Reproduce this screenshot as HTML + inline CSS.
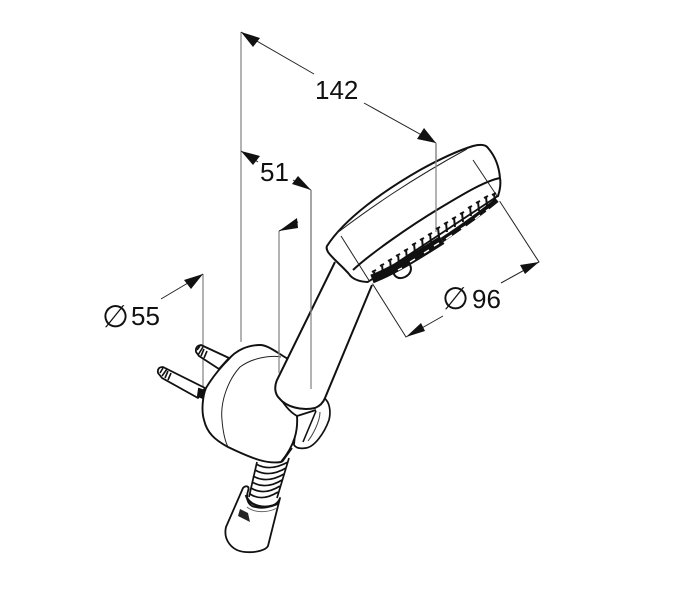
<!DOCTYPE html>
<html><head><meta charset="utf-8"><style>
html,body{margin:0;padding:0;background:#fff}
svg{display:block}
text{font-family:"Liberation Sans",sans-serif;font-size:26px;fill:#111}
.p{font-family:"DejaVu Sans",sans-serif;font-size:31px}
</style></head><body>
<svg width="700" height="600" viewBox="0 0 700 600" xmlns="http://www.w3.org/2000/svg">
<!-- grey extension lines -->
<g stroke="#8a8a8a" stroke-width="1.3" fill="none">
<path d="M241 32V342M279 231V373M311 190V389M203 274V390M436 143V232"/>
</g>
<!-- dimension lines -->
<g stroke="#222" stroke-width="1" fill="none">
<path d="M241 32L314 74M364 103L436 143M241 151L258 162M293 180L311 190M279 231L298 222M203 274L161 299"/>
<path d="M372 283L406 337L443 316M501 283L539 262L473 160"/>
</g>
<!-- arrowheads -->
<g fill="#111">
<path d="M241 32L260 38L253 47Z"/>
<path d="M436 143L417 139L424 128Z"/>
<path d="M241 151L260 156L253 165Z"/>
<path d="M311 190L292 184L298 176Z"/>
<path d="M279 231L297 218L298 228Z"/>
<path d="M203 274L184 280L191 289Z"/>
<path d="M406 337L421 323L425 331Z"/>
<path d="M539 262L520 265L525 274Z"/>
</g>
<!-- pins -->
<g fill="#fff" stroke="#111" stroke-width="1.8" stroke-linejoin="round">
<path d="M229 358L201 345Q195 346 196 352L199 356L219 369Z"/>
<path d="M205 388L163 367Q157 367 158 373L162 378L198 398Z"/>
</g>
<path d="M197 350L200 346M198 355L203 347M204 349L201 356M207 351L204 358M160 373L163 368M162 376L167 369M168 371L165 378M171 373L168 380" stroke="#111" stroke-width="1.6" fill="none"/>
<path d="M199 389L205 391L203 398L198 396Z" fill="#111" stroke="#111" stroke-width="2"/>
<!-- hose -->
<path d="M257 460L250 497L277 498L289 458Z" fill="#fff"/>
<g stroke="#111" stroke-width="1.7" fill="none">
<path d="M257 462L249 497M289 458L277 498"/>
<path d="M256 464Q270 472 288 462M255 470Q269 478 286 468M253 476Q267 484 284 474M252 482Q266 490 282 480M251 488Q264 496 280 486M250 494Q262 502 278 492"/>
</g>
<!-- connector -->
<path d="M243 488L226 527C223 540 232 551 245 552C256 553 266 550 268 546L280 498C277 507 262 510 252 506C247 503 246 497 248 491C250 486 246 485 243 488Z" fill="#fff" stroke="#111" stroke-width="1.8" stroke-linejoin="round"/>
<path d="M246 495C248 505 264 511 279 503" fill="none" stroke="#111" stroke-width="2.4"/>
<path d="M247 507C254 513 268 513 277 508" fill="none" stroke="#666" stroke-width="1"/>
<path d="M240 509L248 513L250 522L238 516Z" fill="#222"/>
<!-- holder behind -->
<path d="M324 398C330 402 331 412 329 420C324 434 314 447 306 448C300 449 296 448 294 445L297 415Z" fill="#fff" stroke="#111" stroke-width="1.7" stroke-linejoin="round"/>
<path d="M320 412C320 422 312 436 308 441" stroke="#444" stroke-width="1" fill="none"/>
<path d="M316 411L303 442" stroke="#111" stroke-width="1.6" fill="none"/>
<!-- bracket -->
<path d="M228 360C236 350 248 345 260 345C268 345 276 352 288 359L297 416C298 430 295 445 281 462C268 464 255 460 228 447C215 440 207 433 204 420C201 410 203 395 206 388C212 378 220 368 228 360Z" fill="#fff" stroke="#111" stroke-width="1.9" stroke-linejoin="round"/>
<path d="M281 357C270 355 252 358 240 367C228 380 220 402 222 420C223 432 225 441 228 447" fill="none" stroke="#222" stroke-width="1"/>
<path d="M277 392C283 404 290 412 297 416L316 410" fill="#fff" stroke="#111" stroke-width="1.8"/>
<path d="M292 448L282 462" stroke="#111" stroke-width="1.8" fill="none"/>
<!-- handle -->
<path d="M335 262L277 380C274 387 275 394 279 398C286 407 302 411 315 408C320 406 323 403 325 398L372 285Z" fill="#fff"/>
<path d="M335 262L277 380C274 387 275 394 279 398C286 407 302 411 315 408C320 406 323 403 325 398L372 285" fill="none" stroke="#111" stroke-width="2"/>
<path d="M311 190V389M279 350V373" stroke="#8a8a8a" stroke-width="1.3" fill="none"/>
<!-- head -->
<path d="M327 246C345 218 385 190 420 170C440 159 460 150 473 146C481 144 486 145 488 148C495 156 499 166 500 178C501 184 500 190 498 196L368 282C360 282 352 279 349 274C342 266 332 258 328 252C327 250 326 248 327 246Z" fill="#fff" stroke="#111" stroke-width="2" stroke-linejoin="round"/>
<path d="M337 233C370 208 410 180 467 149" fill="none" stroke="#222" stroke-width="1"/>
<path d="M353 270C370 254 410 226 440 208C465 193 485 181 500 178" fill="none" stroke="#111" stroke-width="2"/>
<path d="M436 143V232" stroke="#8a8a8a" stroke-width="1.3" fill="none"/>
<path d="M341 236L370 282M473 160L497 196" stroke="#222" stroke-width="1" fill="none"/>
<!-- jets -->
<path d="M368 283L498 197L501 200L460 236L400 277L375 284Z" fill="#fff"/>
<g stroke="#111" stroke-width="2" fill="none">
<path d="M375 280l-1 -9m-2 1l4 -2M383 274l-1 -9m-2 1l4 -2M391 269l-1 -9m-2 1l4 -2M399 264l-1 -9m-2 1l4 -2M407 259l-1 -9m-2 1l4 -2M415 253l-1 -9m-2 1l4 -2M423 248l-1 -9m-2 1l4 -2M431 243l-1 -9m-2 1l4 -2M439 237l-1 -9m-2 1l4 -2M447 232l-1 -9m-2 1l4 -2M455 227l-1 -9m-2 1l4 -2M463 222l-1 -9m-2 1l4 -2M471 216l-1 -9m-2 1l4 -2M479 211l-1 -9m-2 1l4 -2M487 206l-1 -9m-2 1l4 -2M495 201l-1 -7m-2 1l4 -2"/>
</g>
<path d="M372 279C395 270 420 254 442 240" stroke="#111" stroke-width="9" fill="none"/>
<path d="M442 240C460 228 480 214 497 200" stroke="#111" stroke-width="5" fill="none"/>
<path d="M394 269C392 276 398 280 405 277C411 274 412 269 410 265" fill="none" stroke="#111" stroke-width="2"/>
<path d="M398 270l4 -2M410 262l5 -3M424 253l5 -3M434 246l5 -3M446 239l6 -4M461 229l5 -3M475 219l5 -4M486 211l3 -2" stroke="#fff" stroke-width="1.4" fill="none"/>
<!-- labels -->
<text x="315" y="99">142</text>
<text x="260" y="181">51</text>
<text class="p" x="102" y="327">∅</text>
<text x="131" y="325">55</text>
<text class="p" x="442" y="309">∅</text>
<text x="472" y="308">96</text>
</svg>
</body></html>
